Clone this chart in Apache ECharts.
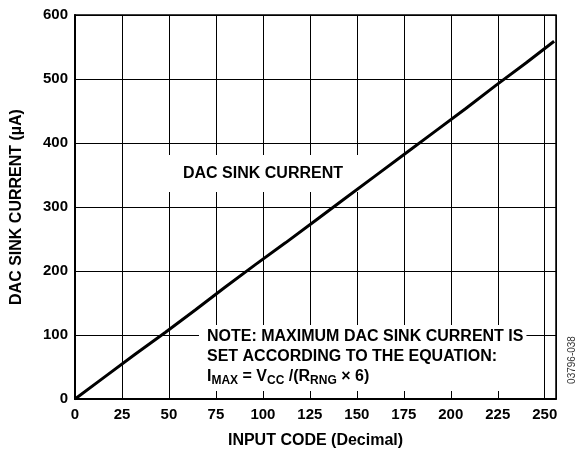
<!DOCTYPE html>
<html><head><meta charset="utf-8">
<script src="https://cdn.jsdelivr.net/npm/echarts@6/dist/echarts.min.js"></script>
<style>html,body{margin:0;padding:0;background:#fff}#c{width:577px;height:458px}</style>
</head><body><div id="c"></div>
<script>
var inputCodes = [0, 16, 32, 48, 64, 80, 96, 112, 128, 144, 160, 176, 192, 208, 224, 240, 255];
var sinkCurrent = [0, 35, 70, 104, 139, 175, 210, 244, 279, 314, 349, 384, 419, 454, 490, 525, 559];
var xTicks = [0, 25, 50, 75, 100, 125, 150, 175, 200, 225, 250];
var yTicks = [0, 100, 200, 300, 400, 500, 600];

var font = '"Liberation Sans", Arial, sans-serif';
var chart = echarts.init(document.getElementById('c'));
chart.setOption({
  animation: false,
  grid: {left: 75, top: 15, right: 21, bottom: 59, show: true, borderColor: '#000', borderWidth: 1.5, backgroundColor: 'transparent'},
  xAxis: {
    type: 'value', min: 0, max: 256, interval: 25,
    name: 'INPUT CODE (Decimal)', nameLocation: 'middle', nameGap: 34,
    nameTextStyle: {fontFamily: font, fontWeight: 'bold', fontSize: 16, color: '#000'},
    axisLine: {show: true, lineStyle: {color: '#000', width: 2}},
    axisTick: {show: false},
    axisLabel: {fontFamily: font, fontWeight: 'bold', fontSize: 15, color: '#000', margin: 8, showMaxLabel: false,
      formatter: function (v) { return xTicks.indexOf(v) >= 0 ? String(v) : ''; }},
    splitLine: {show: true, lineStyle: {color: '#000', width: 1}}
  },
  yAxis: {
    type: 'value', min: 0, max: 600, interval: 100,
    name: 'DAC SINK CURRENT (µA)', nameLocation: 'middle', nameGap: 50, nameRotate: 90,
    nameTextStyle: {fontFamily: font, fontWeight: 'bold', fontSize: 16, color: '#000'},
    axisLine: {show: true, lineStyle: {color: '#000', width: 2}},
    axisTick: {show: false},
    axisLabel: {fontFamily: font, fontWeight: 'bold', fontSize: 15, color: '#000', margin: 7,
      formatter: function (v) { return yTicks.indexOf(v) >= 0 ? String(v) : ''; }},
    splitLine: {show: true, lineStyle: {color: '#000', width: 1}}
  },
  title: [
    {
      text: 'DAC SINK CURRENT', left: 168, top: 155, z: 1,
      backgroundColor: '#fff', padding: [11, 17, 10, 15],
      textStyle: {fontFamily: font, fontWeight: 'bold', fontSize: 16, color: '#000', lineHeight: 16}
    },
    {
      text: '{b|NOTE: MAXIMUM DAC SINK CURRENT IS}\n{b|SET ACCORDING TO THE EQUATION:}\n{b|I}{s|MAX}{b| = V}{s|CC}{b| /(R}{s|RNG}{b| × 6)}',
      left: 199, top: 325, z: 1,
      backgroundColor: '#fff', padding: [2, 3, 4, 8],
      textStyle: {
        fontFamily: font, fontWeight: 'bold', fontSize: 16, color: '#000', lineHeight: 20,
        rich: {
          b: {fontFamily: font, fontWeight: 'bold', fontSize: 16, color: '#000', lineHeight: 20},
          s: {fontFamily: font, fontWeight: 'bold', fontSize: 12, color: '#000', lineHeight: 15, verticalAlign: 'bottom'}
        }
      }
    }
  ],
  graphic: [{
    type: 'text', x: 572, y: 360, rotation: Math.PI / 2,
    style: {text: '03796-038', font: '10px "Liberation Sans", Arial, sans-serif', fill: '#333', align: 'center', verticalAlign: 'middle'}
  }],
  series: [{
    type: 'line', z: 5, showSymbol: false, symbol: 'none',
    lineStyle: {color: '#000', width: 3},
    data: inputCodes.map(function (c, i) { return [c, sinkCurrent[i]]; })
  }]
});
</script></body></html>
